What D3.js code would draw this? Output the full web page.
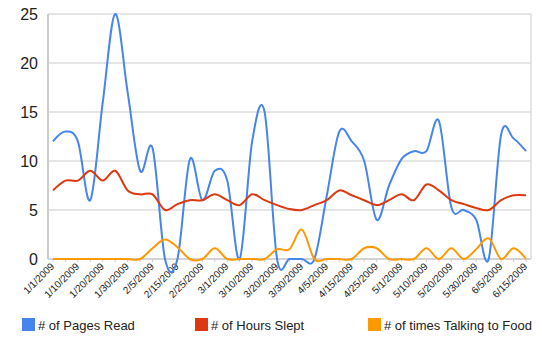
<!DOCTYPE html>
<html>
<head>
<meta charset="utf-8">
<script src="https://cdn.jsdelivr.net/npm/d3@7"></script>
<style>
  body { margin: 0; background: #fff; }
  text { font-family: "Liberation Sans", Arial, sans-serif; }
</style>
</head>
<body>
<div id="chart"></div>
<script>
// Reading log, Jan - Jun 2009

const dates = ["1/1/2009","1/5/2009","1/10/2009","1/15/2009","1/20/2009","1/25/2009","1/30/2009","2/1/2009",
  "2/5/2009","2/10/2009","2/15/2009","2/20/2009","2/25/2009","2/28/2009","3/1/2009","3/5/2009","3/10/2009",
  "3/15/2009","3/20/2009","3/25/2009","3/30/2009","4/1/2009","4/5/2009","4/10/2009","4/15/2009","4/20/2009",
  "4/25/2009","4/28/2009","5/1/2009","5/5/2009","5/10/2009","5/15/2009","5/20/2009","5/25/2009","5/30/2009",
  "6/1/2009","6/5/2009","6/10/2009","6/15/2009"];

const pagesRead = [12,13,12,6,16,25,17,9,11.3,0,0,10.2,6,9,8,0,12,15,0,0,0,0,6.5,13,12,10,4,7.5,10.2,11,11,14.1,5.3,5,4,0,12.7,12.3,11];
const hoursSlept = [7,8,8,9,8,9,7,6.6,6.6,5,5.6,6,6,6.6,6,5.5,6.6,6,5.5,5.1,5,5.5,6,7,6.5,6,5.5,6,6.6,6,7.6,7,6,5.6,5.2,5,6,6.5,6.5];
const talkingToFood = [0,0,0,0,0,0,0,0,1.1,2,1.2,0,0,1.1,0,0,0,0,1,1,3,0,0,0,0,1.1,1.1,0,0,0,1.1,0,1.1,0,1,2.1,0,1.1,0];

const seriesNames = ["# of Pages Read", "# of Hours Slept", "# of times Talking to Food"];
const colors = ["#4684ee", "#dc3912", "#ff9900"];
const yTicks = [0, 5, 10, 15, 20, 25];

const width = 542, height = 353,
    margin = ({ top: 14, right: 11, bottom: 94, left: 48 });

const svg = d3.select("#chart")
  .append("svg")
  .attr("width", width)
  .attr("height", height);

const x = d3.scalePoint()
  .domain(dates)
  .range([margin.left, width - margin.right])
  .padding(0.4);

const y = d3.scaleLinear()
  .domain([0, 25])
  .range([height - margin.bottom, margin.top]);

// gridlines
svg.append("g")
  .selectAll("line")
  .data(yTicks)
  .join("line")
  .attr("x1", margin.left)
  .attr("x2", width - margin.right)
  .attr("y1", d => y(d))
  .attr("y2", d => y(d))
  .attr("stroke", "#dddddd")
  .attr("stroke-width", 1.5);

// right border
svg.append("line")
  .attr("x1", width - margin.right).attr("x2", width - margin.right)
  .attr("y1", y(25)).attr("y2", y(0))
  .attr("stroke", "#dddddd").attr("stroke-width", 1.5);

// left axis
svg.append("line")
  .attr("x1", margin.left).attr("x2", margin.left)
  .attr("y1", y(25)).attr("y2", y(0))
  .attr("stroke", "#cccccc").attr("stroke-width", 2);

// y labels
svg.append("g")
  .selectAll("text")
  .data(yTicks)
  .join("text")
  .attr("x", margin.left - 10)
  .attr("y", d => y(d) + 6)
  .attr("text-anchor", "end")
  .attr("font-size", 16)
  .attr("fill", "#222")
  .text(d => d);

// x axis ticks
svg.append("g")
  .selectAll("line")
  .data(dates)
  .join("line")
  .attr("x1", d => x(d)).attr("x2", d => x(d))
  .attr("y1", y(0)).attr("y2", y(0) + 3)
  .attr("stroke", "#cccccc");

svg.append("line")
  .attr("x1", margin.left).attr("x2", width - margin.right)
  .attr("y1", y(0)).attr("y2", y(0))
  .attr("stroke", "#cccccc").attr("stroke-width", 1.5);

// x labels, every other date
svg.append("g")
  .selectAll("text")
  .data(dates.filter((d, i) => i % 2 === 0))
  .join("text")
  .attr("transform", d => `translate(${x(d) + 2},${y(0) + 8}) rotate(-45)`)
  .attr("text-anchor", "end")
  .attr("font-size", 10)
  .attr("fill", "#222")
  .text(d => d);

// lines
const allSeries = [pagesRead, hoursSlept, talkingToFood];
const line = d3.line()
  .x((d, i) => x(dates[i]))
  .y(d => y(d))
  .curve(d3.curveCardinal.tension(0));

svg.append("g")
  .selectAll("path")
  .data(allSeries)
  .join("path")
  .attr("d", d => line(d))
  .attr("fill", "none")
  .attr("stroke", (d, i) => colors[i])
  .attr("stroke-width", 2);

// legend
const legendX = [22, 195, 368];
const legend = svg.append("g")
  .selectAll("g")
  .data(seriesNames)
  .join("g")
  .attr("transform", (d, i) => `translate(${legendX[i]},318)`);

legend.append("rect")
  .attr("width", 13)
  .attr("height", 13)
  .attr("fill", (d, i) => colors[i]);

legend.append("text")
  .attr("x", 16)
  .attr("y", 12)
  .attr("font-size", 13)
  .attr("fill", "#222")
  .text(d => d);
</script>
</body>
</html>
